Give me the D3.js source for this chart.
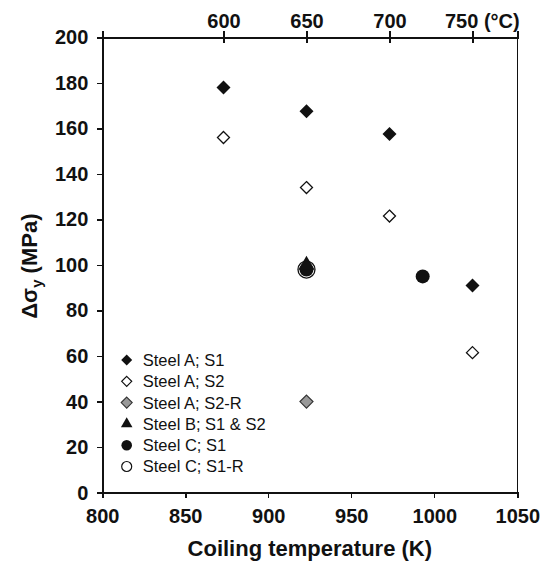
<!DOCTYPE html>
<html lang="en">
<head>
    <meta charset="UTF-8">
    <title>Coiling temperature vs yield strength increment</title>
    <style>
        body {
            margin: 0;
            padding: 0;
            background-color: #fff;
            font-family: "Liberation Sans", Arial, sans-serif;
        }
        .axis path,
        .axis line {
            stroke: #111;
            stroke-width: 1.4;
            shape-rendering: crispEdges;
        }
        .axis text {
            font-size: 20px;
            font-weight: bold;
            fill: #111;
            font-family: "Liberation Sans", Arial, sans-serif;
        }
        .legend text {
            font-size: 16.5px;
            fill: #111;
        }
    </style>
</head>
<body>

<div id="chart"></div>

<script src="https://d3js.org/d3.v7.min.js"></script>
<script>
    // Values (K, MPa)
    const steelA_S1  = [{T: 873, v: 178}, {T: 923, v: 167.5}, {T: 973, v: 157.5}, {T: 1023, v: 91}];
    const steelA_S2  = [{T: 873, v: 156}, {T: 923, v: 134}, {T: 973, v: 121.5}, {T: 1023, v: 61.5}];
    const steelA_S2R = [{T: 923, v: 40}];
    const steelB     = [{T: 923, v: 100}];
    const steelC_S1  = [{T: 923, v: 98}, {T: 993, v: 95}];
    const steelC_S1R = [{T: 923, v: 98}];

    const xTicks = [800, 850, 900, 950, 1000, 1050];
    const yTicks = [0, 20, 40, 60, 80, 100, 120, 140, 160, 180, 200];
    const celsiusTicks = [873, 923, 973, 1023];
    const celsiusLabels = ["600", "650", "700", "750 (°C)"];

    const legendLabels = ["Steel A; S1", "Steel A; S2", "Steel A; S2-R", "Steel B; S1 & S2", "Steel C; S1", "Steel C; S1-R"];

    const W = 556, H = 562;
    const margin = {top: 37.3, right: 38.7, bottom: 69.3, left: 102.3},
          width = W - margin.left - margin.right,
          height = H - margin.top - margin.bottom;

    const svg = d3.select("#chart")
        .append("svg")
        .attr("width", W)
        .attr("height", H)
        .append("g")
        .attr("transform", `translate(${margin.left},${margin.top})`);

    const x = d3.scaleLinear().domain([800, 1050]).range([0, width]);
    const y = d3.scaleLinear().domain([0, 200]).range([height, 0]);

    // marker shapes
    const diamond = r => `M0,${-r}L${r},0L0,${r}L${-r},0Z`;
    const triangle = h => {
        const hw = h / Math.sqrt(3);
        return `M0,${-2 * h / 3}L${hw},${h / 3}L${-hw},${h / 3}Z`;
    };

    // right border
    svg.append("line")
        .attr("x1", width).attr("x2", width)
        .attr("y1", 0).attr("y2", height)
        .attr("stroke", "#111").attr("stroke-width", 1.4)
        .style("shape-rendering", "crispEdges");

    // bottom axis
    svg.append("g")
        .attr("class", "axis")
        .attr("transform", `translate(0,${height})`)
        .call(d3.axisBottom(x).tickValues(xTicks).tickFormat(d3.format("d"))
            .tickSizeOuter(0).tickSize(5).tickPadding(11));

    // left axis
    svg.append("g")
        .attr("class", "axis")
        .call(d3.axisLeft(y).tickValues(yTicks).tickSizeOuter(0).tickSize(5).tickPadding(9));

    // top axis in degrees C
    const topAxis = svg.append("g")
        .attr("class", "axis")
        .call(d3.axisTop(x).tickValues(celsiusTicks).tickSizeOuter(0).tickSize(6).tickPadding(3)
            .tickFormat((d, i) => celsiusLabels[i]));
    topAxis.selectAll(".tick line").attr("y1", 6);
    topAxis.selectAll(".tick text")
        .filter((d, i) => i === celsiusTicks.length - 1)
        .attr("text-anchor", "start")
        .attr("x", -28);

    // axis titles
    svg.append("text")
        .attr("x", width / 2)
        .attr("y", height + 63)
        .attr("text-anchor", "middle")
        .style("font-size", "22px")
        .style("font-weight", "bold")
        .style("fill", "#111")
        .text("Coiling temperature (K)");

    const yt = svg.append("text")
        .attr("transform", `translate(${-margin.left + 37},${y(99.5)}) rotate(-90)`)
        .attr("text-anchor", "middle")
        .style("font-size", "22px")
        .style("font-weight", "bold")
        .style("fill", "#111");
    yt.append("tspan").text("\u0394\u03c3");
    yt.append("tspan").attr("dy", 5).style("font-size", "15px").text("y");
    yt.append("tspan").attr("dy", -5).text(" (MPa)");

    // data points
    svg.selectAll(".c1r")
        .data(steelC_S1R).enter().append("circle")
        .attr("cx", d => x(d.T)).attr("cy", d => y(d.v))
        .attr("r", 8.5).attr("fill", "#fff").attr("stroke", "#111").attr("stroke-width", 1.3);

    svg.selectAll(".c1")
        .data(steelC_S1).enter().append("circle")
        .attr("cx", d => x(d.T)).attr("cy", d => y(d.v))
        .attr("r", 7).attr("fill", "#111");

    svg.selectAll(".b")
        .data(steelB).enter().append("path")
        .attr("transform", d => `translate(${x(d.T)},${y(d.v)})`)
        .attr("d", triangle(14)).attr("fill", "#111");

    svg.selectAll(".a1")
        .data(steelA_S1).enter().append("path")
        .attr("transform", d => `translate(${x(d.T)},${y(d.v)})`)
        .attr("d", diamond(7)).attr("fill", "#111");

    svg.selectAll(".a2")
        .data(steelA_S2).enter().append("path")
        .attr("transform", d => `translate(${x(d.T)},${y(d.v)})`)
        .attr("d", diamond(6)).attr("fill", "#fff").attr("stroke", "#111").attr("stroke-width", 1.3);

    svg.selectAll(".a2r")
        .data(steelA_S2R).enter().append("path")
        .attr("transform", d => `translate(${x(d.T)},${y(d.v)})`)
        .attr("d", diamond(6.5)).attr("fill", "#999").attr("stroke", "#333").attr("stroke-width", 1.2);

    // legend
    const legend = svg.append("g")
        .attr("class", "legend")
        .attr("transform", `translate(${126.7 - margin.left},${360 - margin.top})`);

    const rows = legend.selectAll("g")
        .data(legendLabels).enter().append("g")
        .attr("transform", (d, i) => `translate(0,${i * 21.3})`);

    rows.append("text")
        .attr("x", 16)
        .attr("dy", "0.36em")
        .text(d => d);

    rows.each(function(d, i) {
        const g = d3.select(this);
        if (i === 0) g.append("path").attr("d", diamond(5.5)).attr("fill", "#111");
        if (i === 1) g.append("path").attr("d", diamond(5)).attr("fill", "#fff").attr("stroke", "#111").attr("stroke-width", 1.2);
        if (i === 2) g.append("path").attr("d", diamond(5.5)).attr("fill", "#999").attr("stroke", "#333").attr("stroke-width", 1.1);
        if (i === 3) g.append("path").attr("d", triangle(10)).attr("fill", "#111");
        if (i === 4) g.append("circle").attr("r", 5.3).attr("fill", "#111");
        if (i === 5) g.append("circle").attr("r", 5).attr("fill", "#fff").attr("stroke", "#111").attr("stroke-width", 1.2);
    });
</script>

</body>
</html>
